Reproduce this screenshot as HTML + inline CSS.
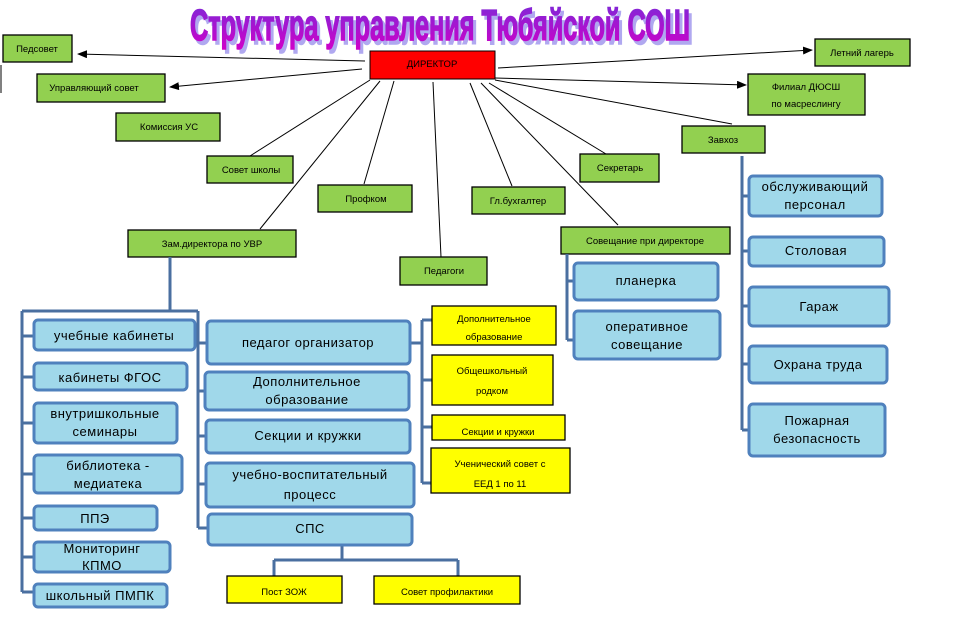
<!DOCTYPE html>
<html><head><meta charset="utf-8"><style>
html,body{margin:0;padding:0;background:#fff;width:953px;height:640px;overflow:hidden}
svg{display:block}
text{font-family:"Liberation Sans","DejaVu Sans",sans-serif;fill:#000}
.g{fill:#92d050;stroke:#000;stroke-width:1.3}
.y{fill:#ffff00;stroke:#000;stroke-width:1.3}
.b{fill:#a0d8ea;stroke:#4f81bd;stroke-width:3}
.s{font-size:9.5px}
.m{font-size:13px;fill:#1a1a1a;letter-spacing:0.5px}
.ln{stroke:#000;stroke-width:1;fill:none}
.bl{stroke:#4a6fa0;stroke-width:3;fill:none}
</style></head><body>
<svg width="953" height="640" viewBox="0 0 953 640" xmlns="http://www.w3.org/2000/svg">
<defs>
<linearGradient id="tg" x1="0" y1="0" x2="0" y2="1"><stop offset="0" stop-color="#7a2bd8"/><stop offset="1" stop-color="#d000c8"/></linearGradient>
<marker id="ar" markerWidth="10" markerHeight="8" refX="9" refY="4" orient="auto" markerUnits="userSpaceOnUse"><path d="M0,0 L10,4 L0,8 z" fill="#000"/></marker>
</defs>
<!-- title -->
<text x="443" y="44" text-anchor="middle" font-size="44" font-weight="bold" style="font-family:'Liberation Sans Narrow','Liberation Sans',sans-serif;fill:#b0a8f0;stroke:#b0a8f0;stroke-width:1.5" textLength="500" lengthAdjust="spacingAndGlyphs">Структура управления Тюбяйской СОШ</text>
<text x="440" y="40" text-anchor="middle" font-size="44" font-weight="bold" style="font-family:'Liberation Sans Narrow','Liberation Sans',sans-serif;fill:url(#tg);stroke:url(#tg);stroke-width:1.5" textLength="500" lengthAdjust="spacingAndGlyphs">Структура управления Тюбяйской СОШ</text>

<!-- lines from director -->
<line class="ln" x1="365" y1="61" x2="78" y2="54" marker-end="url(#ar)"/>
<line class="ln" x1="362" y1="69" x2="170" y2="87" marker-end="url(#ar)"/>
<line class="ln" x1="498" y1="68" x2="812" y2="50" marker-end="url(#ar)"/>
<line class="ln" x1="495" y1="78" x2="746" y2="85" marker-end="url(#ar)"/>
<line class="ln" x1="370" y1="80" x2="250" y2="156"/>
<line class="ln" x1="380" y1="81" x2="260" y2="229"/>
<line class="ln" x1="394" y1="81" x2="364" y2="184"/>
<line class="ln" x1="433" y1="82" x2="441" y2="257"/>
<line class="ln" x1="470" y1="83" x2="512" y2="186"/>
<line class="ln" x1="481" y1="83" x2="618" y2="225"/>
<line class="ln" x1="489" y1="83" x2="606" y2="154"/>
<line class="ln" x1="495" y1="80" x2="732" y2="124"/>
<line x1="1" y1="65" x2="1" y2="93" stroke="#000" stroke-width="1"/>

<!-- green boxes -->
<rect class="g" x="3" y="35" width="69" height="27"/><text class="s" x="37" y="52" text-anchor="middle">Педсовет</text>
<rect class="g" x="37" y="74" width="128" height="28"/><text class="s" x="94" y="91" text-anchor="middle">Управляющий совет</text>
<rect class="g" x="116" y="113" width="104" height="28"/><text class="s" x="169" y="130" text-anchor="middle">Комиссия УС</text>
<rect class="g" x="207" y="156" width="86" height="27"/><text class="s" x="251" y="173" text-anchor="middle">Совет школы</text>
<rect class="g" x="318" y="185" width="94" height="27"/><text class="s" x="366" y="202" text-anchor="middle">Профком</text>
<rect class="g" x="128" y="230" width="168" height="27"/><text class="s" x="212" y="247" text-anchor="middle">Зам.директора по УВР</text>
<rect class="g" x="400" y="257" width="87" height="28"/><text class="s" x="444" y="274" text-anchor="middle">Педагоги</text>
<rect class="g" x="472" y="187" width="93" height="27"/><text class="s" x="518" y="204" text-anchor="middle">Гл.бухгалтер</text>
<rect class="g" x="580" y="154" width="79" height="28"/><text class="s" x="620" y="171" text-anchor="middle">Секретарь</text>
<rect class="g" x="682" y="126" width="83" height="27"/><text class="s" x="723" y="143" text-anchor="middle">Завхоз</text>
<rect class="g" x="561" y="227" width="169" height="27"/><text class="s" x="645" y="244" text-anchor="middle">Совещание при директоре</text>
<rect class="g" x="815" y="39" width="95" height="27"/><text class="s" x="862" y="56" text-anchor="middle">Летний лагерь</text>
<rect class="g" x="748" y="74" width="117" height="41"/><text class="s" x="806" y="90" text-anchor="middle">Филиал ДЮСШ</text><text class="s" x="806" y="107" text-anchor="middle">по масреслингу</text>
<rect x="370" y="51" width="125" height="28" fill="#ff0000" stroke="#000" stroke-width="1"/><text class="s" x="432" y="67" text-anchor="middle">ДИРЕКТОР</text>

<!-- blue connectors -->
<path class="bl" d="M170,257 V311 M22,311 H198 M22,311 V592 M198,311 V528"/>
<path class="bl" d="M22,336 H34 M22,377 H34 M22,423 H34 M22,474 H34 M22,518 H34 M22,557 H34 M22,592 H34"/>
<path class="bl" d="M198,343 H207 M198,391 H205 M198,436 H206 M198,484 H206 M198,528 H208"/>
<path class="bl" d="M422,320 V483 M410,343 H422 M422,320 H432 M422,380 H432 M422,427 H432 M422,483 H432"/>
<path class="bl" d="M342,545 V560 M274,560 H458 M274,560 V576 M458,560 V576"/>
<path class="bl" d="M567,254 V340 M567,281 H574 M567,340 H574"/>
<path class="bl" d="M742,156 V430 M742,196 H749 M742,251 H749 M742,306 H749 M742,364 H749 M742,430 H749"/>

<!-- blue boxes -->
<g class="m" text-anchor="middle">
<rect class="b" x="34" y="320" width="161" height="30" rx="4"/><text x="114" y="340">учебные кабинеты</text>
<rect class="b" x="34" y="363" width="153" height="27" rx="4"/><text x="110" y="382">кабинеты ФГОС</text>
<rect class="b" x="34" y="403" width="143" height="40" rx="4"/><text x="105" y="418">внутришкольные</text><text x="105" y="436">семинары</text>
<rect class="b" x="34" y="455" width="148" height="38" rx="4"/><text x="108" y="470">библиотека -</text><text x="108" y="488">медиатека</text>
<rect class="b" x="34" y="506" width="123" height="24" rx="4"/><text x="95" y="523">ППЭ</text>
<rect class="b" x="34" y="542" width="136" height="30" rx="4"/><text x="102" y="553">Мониторинг</text><text x="102" y="570">КПМО</text>
<rect class="b" x="34" y="584" width="133" height="23" rx="4"/><text x="100" y="600">школьный ПМПК</text>

<rect class="b" x="207" y="321" width="203" height="43" rx="4"/><text x="308" y="347">педагог организатор</text>
<rect class="b" x="205" y="372" width="204" height="38" rx="4"/><text x="307" y="386">Дополнительное</text><text x="307" y="404">образование</text>
<rect class="b" x="206" y="420" width="204" height="33" rx="4"/><text x="308" y="440">Секции и кружки</text>
<rect class="b" x="206" y="463" width="208" height="44" rx="4"/><text x="310" y="479">учебно-воспитательный</text><text x="310" y="499">процесс</text>
<rect class="b" x="208" y="514" width="204" height="31" rx="4"/><text x="310" y="533">СПС</text>

<rect class="b" x="574" y="263" width="144" height="37" rx="4"/><text x="646" y="285">планерка</text>
<rect class="b" x="574" y="311" width="146" height="48" rx="4"/><text x="647" y="331">оперативное</text><text x="647" y="349">совещание</text>

<rect class="b" x="749" y="176" width="133" height="40" rx="4"/><text x="815" y="191">обслуживающий</text><text x="815" y="209">персонал</text>
<rect class="b" x="749" y="237" width="135" height="29" rx="4"/><text x="816" y="255">Столовая</text>
<rect class="b" x="749" y="287" width="140" height="39" rx="4"/><text x="819" y="311">Гараж</text>
<rect class="b" x="749" y="346" width="138" height="37" rx="4"/><text x="818" y="369">Охрана труда</text>
<rect class="b" x="749" y="404" width="136" height="52" rx="4"/><text x="817" y="425">Пожарная</text><text x="817" y="443">безопасность</text>
</g>

<!-- yellow boxes -->
<rect class="y" x="432" y="306" width="124" height="39"/><text class="s" x="494" y="322" text-anchor="middle">Дополнительное</text><text class="s" x="494" y="340" text-anchor="middle">образование</text>
<rect class="y" x="432" y="355" width="121" height="50"/><text class="s" x="492" y="374" text-anchor="middle">Общешкольный</text><text class="s" x="492" y="394" text-anchor="middle">родком</text>
<rect class="y" x="432" y="415" width="133" height="25"/><text class="s" x="498" y="435" text-anchor="middle">Секции и кружки</text>
<rect class="y" x="431" y="448" width="139" height="45"/><text class="s" x="500" y="467" text-anchor="middle">Ученический совет с</text><text class="s" x="500" y="487" text-anchor="middle">ЕЕД 1 по 11</text>
<rect class="y" x="227" y="576" width="115" height="27"/><text class="s" x="284" y="595" text-anchor="middle">Пост ЗОЖ</text>
<rect class="y" x="374" y="576" width="146" height="28"/><text class="s" x="447" y="595" text-anchor="middle">Совет профилактики</text>
</svg>
</body></html>
